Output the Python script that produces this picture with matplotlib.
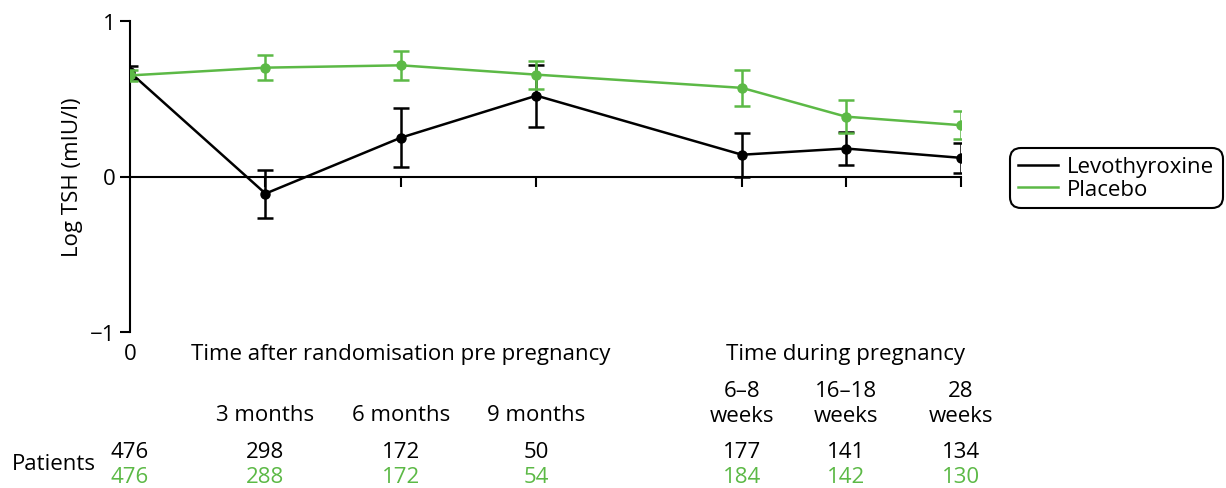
import numpy as np
import matplotlib.pyplot as plt
from matplotlib.lines import Line2D
from matplotlib.transforms import blended_transform_factory

plt.rcParams['font.family'] = ['Open Sans', 'DejaVu Sans']

# time points (x position on a month-like scale)
xpos = [0, 3, 6, 9, 13.55, 15.85, 18.4]
levo_mean = [0.67, -0.11, 0.25, 0.52, 0.14, 0.18, 0.12]
levo_err = [0.04, 0.155, 0.19, 0.20, 0.14, 0.105, 0.095]
plac_mean = [0.65, 0.70, 0.715, 0.655, 0.57, 0.385, 0.33]
plac_err = [0.035, 0.08, 0.095, 0.09, 0.115, 0.105, 0.09]

month_labels = ['3 months', '6 months', '9 months']
week_labels = ['6\u20138\nweeks', '16\u201318\nweeks', '28\nweeks']
levo_n = [476, 298, 172, 50, 177, 141, 134]
plac_n = [476, 288, 172, 54, 184, 142, 130]

green = '#5cb946'
fs = 16

fig = plt.figure(figsize=(12.26, 4.89), dpi=100)
ax = fig.add_axes([130/1226, 1 - 333/489, (961-130)/1226, (333-22)/489])

ax.errorbar(xpos, plac_mean, yerr=plac_err, color=green, lw=1.8, marker='o',
            ms=6.5, capsize=6, capthick=1.8, elinewidth=1.8, zorder=3)
ax.errorbar(xpos, levo_mean, yerr=levo_err, color='black', lw=1.8, marker='o',
            ms=6.5, capsize=6, capthick=1.8, elinewidth=1.8, zorder=2)

ax.set_xlim(0, xpos[-1])
ax.set_ylim(-1, 1)
ax.spines['top'].set_visible(False)
ax.spines['right'].set_visible(False)
ax.spines['bottom'].set_position(('data', 0))
ax.spines['left'].set_linewidth(1.5)
ax.spines['bottom'].set_linewidth(1.5)
ax.set_yticks([-1, 0, 1])
ax.set_yticklabels(['\u22121', '0', '1'], fontsize=fs)
ax.set_xticks(xpos[1:])
ax.set_xticklabels([])
ax.tick_params(axis='both', direction='out', length=7, width=1.5)
ax.set_ylabel('Log TSH (mIU/l)', fontsize=fs, labelpad=5)

handles = [Line2D([], [], color='black', lw=1.8), Line2D([], [], color=green, lw=1.8)]
leg = ax.legend(handles, ['Levothyroxine', 'Placebo'], loc='center left',
                bbox_to_anchor=(1014/1226, 1 - 179/489),
                bbox_transform=fig.transFigure, fontsize=fs, frameon=True, fancybox=True,
                edgecolor='black', handlelength=1.8, borderpad=0.2, labelspacing=0.05,
                handletextpad=0.4, borderaxespad=0, framealpha=1)
leg.get_frame().set_linewidth(1.5)
leg.get_frame().set_boxstyle('round', pad=0.2, rounding_size=0.5)

tr = blended_transform_factory(ax.transData, fig.transFigure)
def fy(py):
    return 1 - py / 489

ax.text(0, fy(355), '0', transform=tr, ha='center', va='center', fontsize=fs)
ax.text(xpos[1] - 1.65, fy(355), 'Time after randomisation pre pregnancy', transform=tr,
        ha='left', va='center', fontsize=fs)
ax.text(xpos[5], fy(355), 'Time during pregnancy', transform=tr, ha='center',
        va='center', fontsize=fs)
for x, lab in zip(xpos[1:4], month_labels):
    ax.text(x, fy(416), lab, transform=tr, ha='center', va='center', fontsize=fs)
for x, lab in zip(xpos[4:], week_labels):
    ax.text(x, fy(404), lab, transform=tr, ha='center', va='center', fontsize=fs,
            linespacing=1.2)

ax.text(-0.75, fy(465), 'Patients', transform=tr, ha='right', va='center', fontsize=fs)
for i, x in enumerate(xpos):
    ax.text(x, fy(453), str(levo_n[i]), transform=tr, ha='center',
            va='center', fontsize=fs, color='black')
    ax.text(x, fy(478), str(plac_n[i]), transform=tr, ha='center',
            va='center', fontsize=fs, color=green)

fig.savefig('out.png', dpi=100)
